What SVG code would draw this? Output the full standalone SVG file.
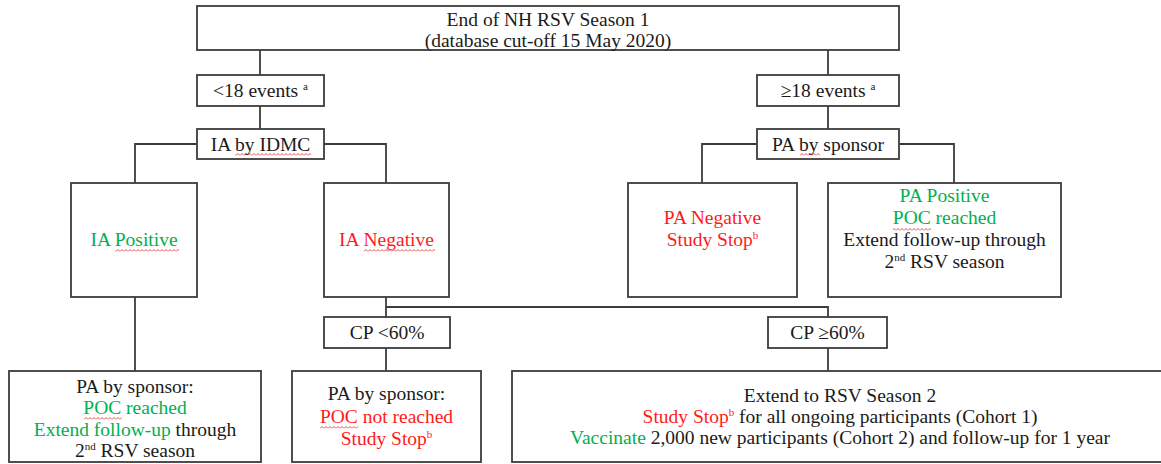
<svg xmlns="http://www.w3.org/2000/svg" width="1161" height="464" viewBox="0 0 1161 464">
<defs>
<style>
.box{fill:#ffffff;stroke:#3c3c3c;stroke-width:1.8}
.ln{fill:none;stroke:#3c3c3c;stroke-width:1.8}
text{font-family:"Liberation Serif","Times New Roman",serif;font-size:19.5px;fill:#1a1a1a;text-anchor:middle}
.g{fill:#00b050}
.r{fill:#ff1a1a}
.k{fill:#1a1a1a}
.sup{font-size:11px}
.sq{fill:url(#squig)}
</style>
<pattern id="squig" patternUnits="userSpaceOnUse" width="4" height="3">
<path d="M0 2.5 L2 0.5 L4 2.5" fill="none" stroke="#e02020" stroke-width="0.8"/>
</pattern>
</defs>
<rect width="1161" height="464" fill="#ffffff"/>
<g id="connectors">
<path class="ln" d="M260 50 V75"/>
<path class="ln" d="M260 106 V129"/>
<path class="ln" d="M828 50 V75"/>
<path class="ln" d="M828 106 V129"/>
<path class="ln" d="M197 144 H135 V183"/>
<path class="ln" d="M324 144 H386 V183"/>
<path class="ln" d="M757 144 H702 V183"/>
<path class="ln" d="M899 144 H954 V183"/>
<path class="ln" d="M135 297 V371"/>
<path class="ln" d="M386 297 V317"/>
<path class="ln" d="M386 307 H828 V317"/>
<path class="ln" d="M386 348 V371"/>
<path class="ln" d="M828 348 V371"/>
</g>
<g id="top">
<rect class="box" x="197" y="6" width="702" height="44"/>
<text x="548" y="26">End of NH RSV Season 1</text>
<text x="548" y="47">(database cut-off 15 May 2020)</text>
</g>
<g id="lt18">
<rect class="box" x="197" y="75" width="127" height="31"/>
<text x="260.5" y="97">&lt;18 events <tspan class="sup" dy="-7">a</tspan></text>
</g>
<g id="ge18">
<rect class="box" x="757" y="75" width="142" height="31"/>
<text x="828" y="97">≥18 events <tspan class="sup" dy="-7">a</tspan></text>
</g>
<g id="ia-idmc">
<rect class="box" x="197" y="129" width="127" height="30"/>
<text x="260.5" y="150.5">IA by IDMC</text>
<rect class="sq" x="235" y="153" width="76" height="3"/>
</g>
<g id="pa-sponsor">
<rect class="box" x="757" y="129" width="142" height="30"/>
<text x="828" y="150.5">PA by sponsor</text>
<rect class="sq" x="800" y="153" width="20" height="3"/>
</g>
<g id="ia-positive">
<rect class="box" x="71" y="183" width="126" height="114"/>
<text x="134" y="246" class="g">IA Positive</text>
<rect class="sq" x="115" y="249" width="64" height="3"/>
</g>
<g id="ia-negative">
<rect class="box" x="324" y="183" width="125" height="114"/>
<text x="386.5" y="246" class="r">IA Negative</text>
<rect class="sq" x="364" y="249" width="71" height="3"/>
</g>
<g id="pa-negative">
<rect class="box" x="628" y="183" width="169" height="114"/>
<text x="712.5" y="224" class="r">PA Negative</text>
<text x="712.5" y="246" class="r">Study Stop<tspan class="sup" dy="-7">b</tspan></text>
</g>
<g id="pa-positive">
<rect class="box" x="828" y="183" width="233" height="114"/>
<text x="944.5" y="202" class="g">PA Positive</text>
<text x="944.5" y="224" class="g">POC reached</text>
<rect class="sq" x="893" y="228" width="38" height="3"/>
<text x="944.5" y="246">Extend follow-up through</text>
<text x="944.5" y="268">2<tspan class="sup" dy="-7">nd</tspan><tspan dy="7"> RSV season</tspan></text>
</g>
<g id="cp-lt60">
<rect class="box" x="324" y="317" width="126" height="31"/>
<text x="387" y="339">CP &lt;60%</text>
</g>
<g id="cp-ge60">
<rect class="box" x="768" y="317" width="119" height="31"/>
<text x="827.5" y="339">CP ≥60%</text>
</g>
<g id="bottom-left">
<rect class="box" x="9" y="371" width="252" height="91"/>
<text x="135" y="393">PA by sponsor:</text>
<text x="135" y="414" class="g">POC reached</text>
<rect class="sq" x="84" y="417" width="38" height="3"/>
<text x="135" y="436"><tspan class="g">Extend follow-up</tspan> through</text>
<text x="135" y="457">2<tspan class="sup" dy="-7">nd</tspan><tspan dy="7"> RSV season</tspan></text>
</g>
<g id="bottom-middle">
<rect class="box" x="292" y="371" width="189" height="91"/>
<text x="386.5" y="400">PA by sponsor:</text>
<text x="386.5" y="422.5" class="r">POC not reached</text>
<rect class="sq" x="320" y="426" width="38" height="3"/>
<text x="386.5" y="445" class="r">Study Stop<tspan class="sup" dy="-7">b</tspan></text>
</g>
<g id="bottom-right">
<rect class="box" x="512" y="371" width="660" height="91"/>
<text x="840" y="402">Extend to RSV Season 2</text>
<text x="840" y="423"><tspan class="r">Study Stop</tspan><tspan class="sup r" dy="-7">b</tspan><tspan dy="7"> for all ongoing participants (Cohort 1)</tspan></text>
<text x="840" y="444"><tspan class="g">Vaccinate</tspan> 2,000 new participants (Cohort 2) and follow-up for 1 year</text>
</g>
</svg>
